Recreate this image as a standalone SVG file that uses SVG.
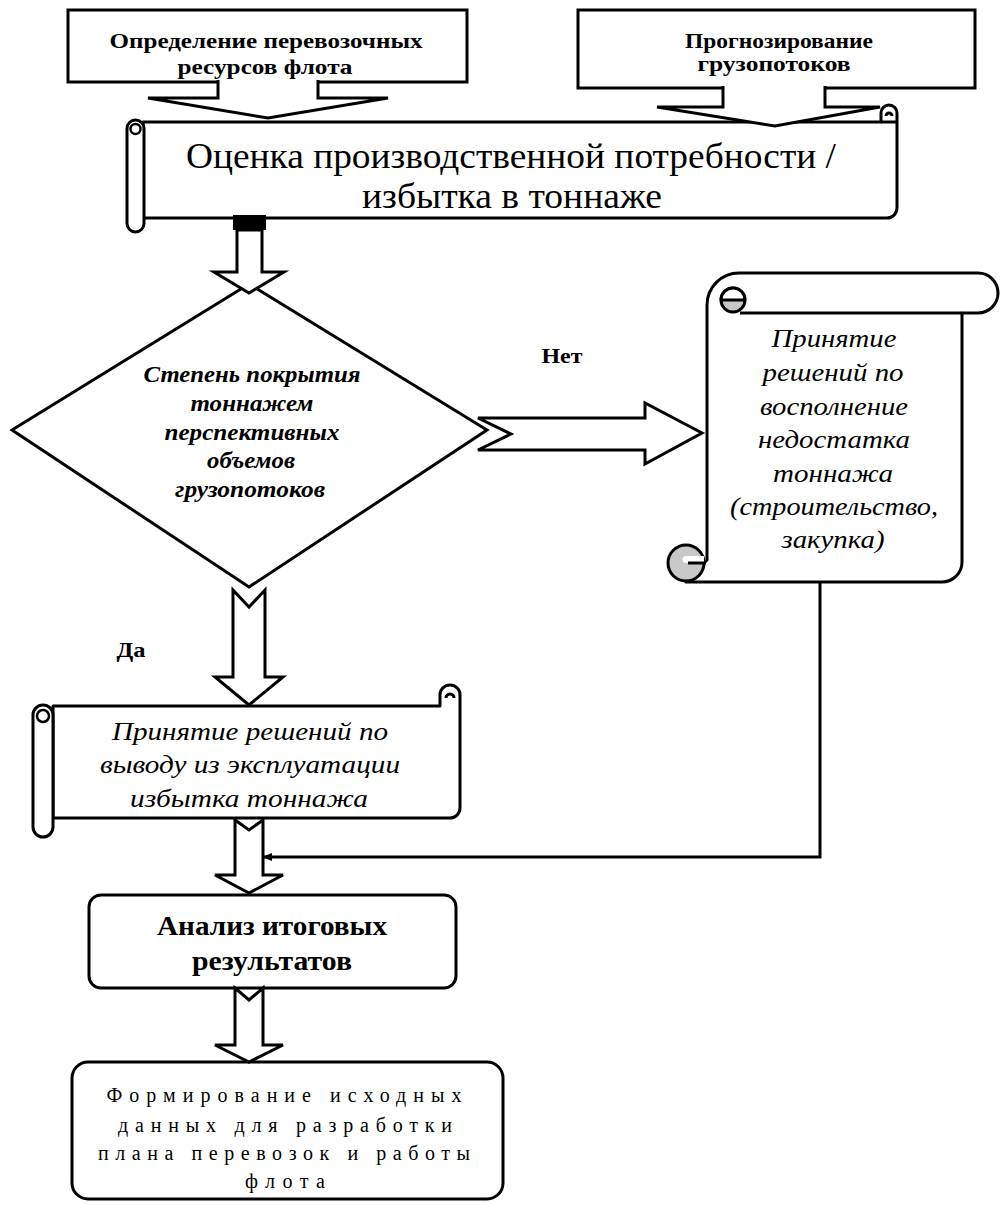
<svg xmlns="http://www.w3.org/2000/svg" width="1003" height="1205" viewBox="0 0 1003 1205">
<style>
.s{fill:#fff;stroke:#000;stroke-width:3;stroke-linejoin:round}
.sm{fill:#fff;stroke:#000;stroke-width:3;stroke-linejoin:miter}
.g{fill:#c8c8c8;stroke:#000;stroke-width:3}
.ln{fill:none;stroke:#000;stroke-width:3}
.t{font-family:"Liberation Serif","Times New Roman",serif;fill:#000;text-anchor:middle}
.b{font-weight:bold}
.i{font-style:italic}
.f22{font-size:22px}
.f35{font-size:35px}
.f23{font-size:23px}
.f26{font-size:26px}
.f27{font-size:27px}
.f20{font-size:20px}
</style>
<defs>
<marker id="ah" markerWidth="10" markerHeight="8" refX="9" refY="4" orient="auto" markerUnits="userSpaceOnUse">
<path d="M0,0 L10,4 L0,8 Z" fill="#000"/>
</marker>
</defs>
<rect width="1003" height="1205" fill="#fff"/>

<g id="n-resources">
<rect class="sm" x="68" y="10" width="399" height="72"/>
<text class="t b f22" x="266" y="48" textLength="313" lengthAdjust="spacingAndGlyphs">Определение перевозочных</text>
<text class="t b f22" x="265" y="74" textLength="175" lengthAdjust="spacingAndGlyphs">ресурсов флота</text>
</g>

<g id="n-forecast">
<rect class="sm" x="578" y="10" width="397" height="78"/>
<text class="t b f22" x="779" y="48" textLength="188" lengthAdjust="spacingAndGlyphs">Прогнозирование</text>
<text class="t b f22" x="774" y="71" textLength="153" lengthAdjust="spacingAndGlyphs">грузопотоков</text>
</g>

<g id="n-assess">
<path class="s" d="M143 122 H881 V113 A8 8 0 0 1 897 113 V208 A10 10 0 0 1 887 218 H143 Z"/>
<path class="ln" d="M881 122 H897" stroke-width="2"/>
<path class="ln" d="M886 116 A3 3 0 1 1 892 116" stroke-width="2"/>
<rect class="s" x="127" y="120" width="17" height="112" rx="8.5"/>
<circle cx="135.5" cy="129" r="5" fill="#fff" stroke="#000" stroke-width="2.5"/>
<text class="t f35" x="511" y="168" textLength="650" lengthAdjust="spacingAndGlyphs">Оценка производственной потребности /</text>
<text class="t f35" x="512" y="208" textLength="300" lengthAdjust="spacingAndGlyphs">избытка в тоннаже</text>
</g>

<g id="n-decision">
<polygon class="sm" points="12,430 249,284 487,430 249,587"/>
<text class="t b i f23" x="252" y="382" textLength="217" lengthAdjust="spacingAndGlyphs">Степень покрытия</text>
<text class="t b i f23" x="252" y="411" textLength="123" lengthAdjust="spacingAndGlyphs">тоннажем</text>
<text class="t b i f23" x="252" y="440" textLength="175" lengthAdjust="spacingAndGlyphs">перспективных</text>
<text class="t b i f23" x="251" y="468" textLength="88" lengthAdjust="spacingAndGlyphs">объемов</text>
<text class="t b i f23" x="250" y="497" textLength="150" lengthAdjust="spacingAndGlyphs">грузопотоков</text>
</g>

<g id="n-replenish">
<path class="s" d="M707 560 V305 A32 32 0 0 1 739 273 H978 A20 20 0 0 1 978 313 H962 V562 A20 20 0 0 1 942 582 H686 L707 560 Z"/>
<path class="ln" d="M740 313 H962"/>
<circle class="g" cx="733" cy="300" r="12"/>
<path d="M721 300 A12 12 0 0 1 745 300 Z" fill="#fff"/>
<path class="ln" d="M721 300 A12 12 0 0 1 745 300 M722 300 H745"/>
<circle class="g" cx="686" cy="563" r="18"/>
<path d="M686 556 H704 V563 H686 A3.5 3.5 0 0 1 686 556 Z" fill="#fff"/>
<path class="ln" d="M688 563 H706" stroke-width="2.5"/>
<text class="t i f26" x="834" y="347" textLength="125" lengthAdjust="spacingAndGlyphs">Принятие</text>
<text class="t i f26" x="833" y="381" textLength="141" lengthAdjust="spacingAndGlyphs">решений по</text>
<text class="t i f26" x="834" y="415" textLength="148" lengthAdjust="spacingAndGlyphs">восполнение</text>
<text class="t i f26" x="834" y="448" textLength="152" lengthAdjust="spacingAndGlyphs">недостатка</text>
<text class="t i f26" x="833" y="482" textLength="120" lengthAdjust="spacingAndGlyphs">тоннажа</text>
<text class="t i f26" x="834" y="515" textLength="208" lengthAdjust="spacingAndGlyphs">(строительство,</text>
<text class="t i f26" x="833" y="548" textLength="103" lengthAdjust="spacingAndGlyphs">закупка)</text>
</g>

<g id="n-decommission">
<path class="s" d="M53 706 H440 V695 A10 10 0 0 1 460 695 V808 A10 10 0 0 1 450 818 H53 Z"/>
<path class="ln" d="M446 698 A4 4 0 1 1 454 698" stroke-width="2.5"/>
<rect class="s" x="33" y="705" width="20" height="132" rx="10"/>
<circle cx="43" cy="716" r="6" fill="#fff" stroke="#000" stroke-width="2.5"/>
<text class="t i f26" x="250" y="740" textLength="276" lengthAdjust="spacingAndGlyphs">Принятие решений по</text>
<text class="t i f26" x="250" y="773" textLength="300" lengthAdjust="spacingAndGlyphs">выводу из эксплуатации</text>
<text class="t i f26" x="249" y="807" textLength="238" lengthAdjust="spacingAndGlyphs">избытка тоннажа</text>
</g>

<g id="n-analysis">
<rect class="s" x="89" y="895" width="367" height="93" rx="12"/>
<text class="t b f27" x="272" y="935" textLength="230" lengthAdjust="spacingAndGlyphs">Анализ итоговых</text>
<text class="t b f27" x="272" y="970" textLength="160" lengthAdjust="spacingAndGlyphs">результатов</text>
</g>

<g id="n-output">
<rect class="s" x="72" y="1062" width="431" height="137" rx="16"/>
<text class="t f20" x="284" y="1102" textLength="355" lengthAdjust="spacing">Формирование исходных</text>
<text class="t f20" x="285" y="1132" textLength="334" lengthAdjust="spacing">данных для разработки</text>
<text class="t f20" x="284" y="1160" textLength="372" lengthAdjust="spacing">плана перевозок и работы</text>
<text class="t f20" x="285" y="1188" textLength="80" lengthAdjust="spacing">флота</text>
</g>

<g id="connectors">
<path class="sm" d="M218 80 V98 H148 L268 118 L388 98 H318 V80"/>
<path class="sm" d="M723 86 V107 H657 L775 126 L880 107 H825 V86"/>
<rect x="233" y="215" width="33" height="15" fill="#000"/>
<polygon class="sm" points="237,230 262,230 262,272 284,272 249,293 214,272 237,272"/>
<polygon class="sm" points="478,418 645,418 645,403 702,433 645,464 645,450 478,450 511,434"/>
<text class="t b" font-size="22" x="562" y="363" textLength="41" lengthAdjust="spacingAndGlyphs">Нет</text>
<polygon class="sm" points="233,590 249,607 265,590 265,677 283,677 249,705 215,677 233,677"/>
<text class="t b" font-size="22" x="131" y="657" textLength="29" lengthAdjust="spacingAndGlyphs">Да</text>
<polygon class="sm" points="235,820 249,830 263,820 263,875 283,875 249,893 215,875 235,875"/>
<path class="ln" d="M820 582 V857 H263" marker-end="url(#ah)"/>
<polygon class="sm" points="235,988 249,1000 263,988 263,1045 283,1045 249,1062 215,1045 235,1045"/>
</g>
</svg>
